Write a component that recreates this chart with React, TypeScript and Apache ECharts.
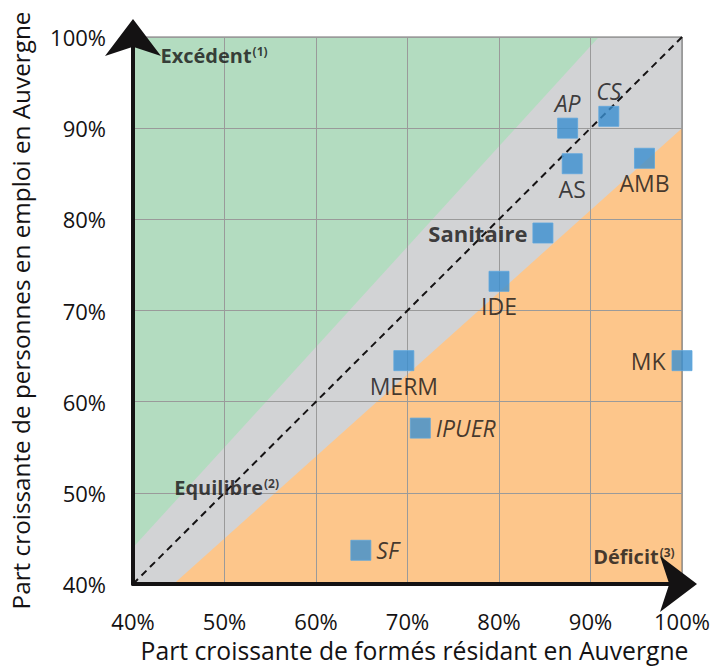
import React, { useEffect, useRef } from 'react';
import * as echarts from 'echarts';

// ---- axis settings (percent) ----
const axisMin = 40;
const axisMax = 100;
const axisStep = 10;

// ---- professions: share of trainees resident in Auvergne (x) / share employed in Auvergne (y) ----
const professions = ['AP', 'CS', 'AS', 'AMB', 'Sanitaire', 'IDE', 'MERM', 'IPUER', 'SF', 'MK'];
const trainedResidentShare = [87.5, 92.0, 88.0, 95.9, 84.8, 80.0, 69.6, 71.4, 64.9, 100.0];
const employedShare = [90.0, 91.3, 86.1, 86.7, 78.5, 73.2, 64.5, 57.1, 43.7, 64.5];

// ---- zones (polygon vertices in data space) ----
const zoneNames = ['Equilibre', 'Excédent', 'Déficit'];
const zonePolygons = [
  [[40, 40], [100, 40], [100, 100], [40, 100]],
  [[40, 44], [40, 100], [90.91, 100]],
  [[44.44, 40], [100, 40], [100, 90]],
];
const diagonal = [[40, 40], [100, 100]];

// ---- zone annotations ----
const zoneLabels = ['Excédent', 'Equilibre', 'Déficit'];
const zoneNotes = ['(1)', '(2)', '(3)'];
const zoneLabelAnchors = [[43.0, 98.0], [44.5, 50.6], [99.2, 43.0]];

const xTitle = 'Part croissante de formés résidant en Auvergne';
const yTitle = 'Part croissante de personnes en emploi en Auvergne';

// ---- styles ----
const FONT = '"Open Sans", sans-serif';
const INK = '#141213';
const zoneColors = ['#d2d3d5', '#b3dcc0', '#fdc68b'];
const pointColor = '#3a8fd0';

const labelPlacement: Record<string, { position: string; style?: string; weight?: string; distance: number }> = {
  AP: { position: 'top', style: 'italic', distance: 3 },
  CS: { position: 'top', style: 'italic', distance: 3 },
  AS: { position: 'bottom', distance: 3 },
  AMB: { position: 'bottom', distance: 3 },
  Sanitaire: { position: 'left', weight: 'bold', distance: 5 },
  IDE: { position: 'bottom', distance: 3 },
  MERM: { position: 'bottom', distance: 3 },
  IPUER: { position: 'right', style: 'italic', distance: 5 },
  SF: { position: 'right', style: 'italic', distance: 5 },
  MK: { position: 'left', distance: 6 },
};

export default function App() {
  const ref = useRef<HTMLDivElement>(null);

  useEffect(() => {
    if (!ref.current) return;
    const chart = echarts.init(ref.current, null, { renderer: 'svg' });

    const pointData = professions.map((name, i) => {
      const p = labelPlacement[name];
      return {
        name,
        value: [trainedResidentShare[i], employedShare[i]],
        label: {
          show: true,
          position: p.position,
          distance: p.distance,
          formatter: '{b}',
          fontFamily: FONT,
          fontSize: p.weight === 'bold' ? 22 : 23,
          fontStyle: p.style || 'normal',
          fontWeight: p.weight || 'normal',
          color: INK,
        },
      };
    });

    const zoneLabelData = zoneLabels.map((name, i) => ({
      name,
      value: zoneLabelAnchors[i],
      label: {
        show: true,
        position: i === 2 ? 'left' : 'right',
        distance: 0,
        formatter: `{m|${name}}{s|${zoneNotes[i]}}`,
        rich: {
          m: { fontFamily: FONT, fontSize: 20, fontWeight: 'bold', color: INK },
          s: { fontFamily: FONT, fontSize: 12, fontWeight: 'bold', color: INK, verticalAlign: 'top', padding: [0, 0, 0, 1] },
        },
      },
    }));

    const axisCommon = {
      type: 'value',
      min: axisMin,
      max: axisMax,
      interval: axisStep,
      nameLocation: 'middle',
      axisTick: { show: false },
      splitLine: { show: true, lineStyle: { color: '#9a9a9a', width: 1 } },
    };

    const arrowLine = (endOffset: number) => ({
      show: true,
      onZero: false,
      symbol: ['none', 'arrow'],
      symbolSize: [42, 37],
      symbolOffset: [0, endOffset],
      lineStyle: { color: INK, width: 4 },
    });

    chart.setOption({
      animation: false,
      grid: {
        left: 130,
        right: 33,
        top: 37,
        bottom: 80,
        show: true,
        backgroundColor: 'transparent',
        borderColor: '#6f6f6f',
        borderWidth: 1,
      },
      xAxis: {
        ...axisCommon,
        name: xTitle,
        nameGap: 54,
        nameTextStyle: { fontFamily: FONT, fontSize: 24.7, color: INK, padding: [0, 0, 0, 14] },
        axisLine: arrowLine(15),
        axisLabel: {
          formatter: '{value}%',
          fontFamily: FONT,
          fontSize: 22,
          color: INK,
          margin: 26,
          showMinLabel: true,
          showMaxLabel: true,
        },
      },
      yAxis: {
        ...axisCommon,
        name: yTitle,
        nameGap: 101,
        nameTextStyle: { fontFamily: FONT, fontSize: 24.3, color: INK },
        axisLine: arrowLine(18),
        axisLabel: {
          formatter: '{value}%',
          fontFamily: FONT,
          fontSize: 22,
          color: INK,
          margin: 27,
          showMinLabel: true,
          showMaxLabel: true,
        },
      },
      series: [
        {
          type: 'custom',
          name: 'zones',
          silent: true,
          z: -1,
          data: zoneNames.map((n, i) => ({ name: n, value: zonePolygons[i][0] })),
          renderItem: (params: any, api: any) => {
            const idx = params.dataIndex;
            const pts = zonePolygons[idx].map((p) => api.coord(p));
            return { type: 'polygon', shape: { points: pts }, style: { fill: zoneColors[idx] } };
          },
        },
        {
          type: 'line',
          name: 'Equilibre',
          silent: true,
          z: 3,
          symbol: 'none',
          data: diagonal,
          lineStyle: { color: INK, width: 2, type: [7, 5] },
        },
        {
          type: 'scatter',
          name: 'professions',
          z: 5,
          symbol: 'rect',
          symbolSize: 20,
          itemStyle: { color: pointColor, borderColor: '#5ea6dd', borderWidth: 1 },
          data: pointData,
        },
        {
          type: 'scatter',
          name: 'zoneLabels',
          silent: true,
          z: 6,
          symbolSize: 0,
          data: zoneLabelData,
        },
      ],
    });

    return () => chart.dispose();
  }, []);

  return (
    <div
      ref={ref}
      style={{ position: 'fixed', left: 0, top: 0, width: 715, height: 668, background: '#fff' }}
    />
  );
}
